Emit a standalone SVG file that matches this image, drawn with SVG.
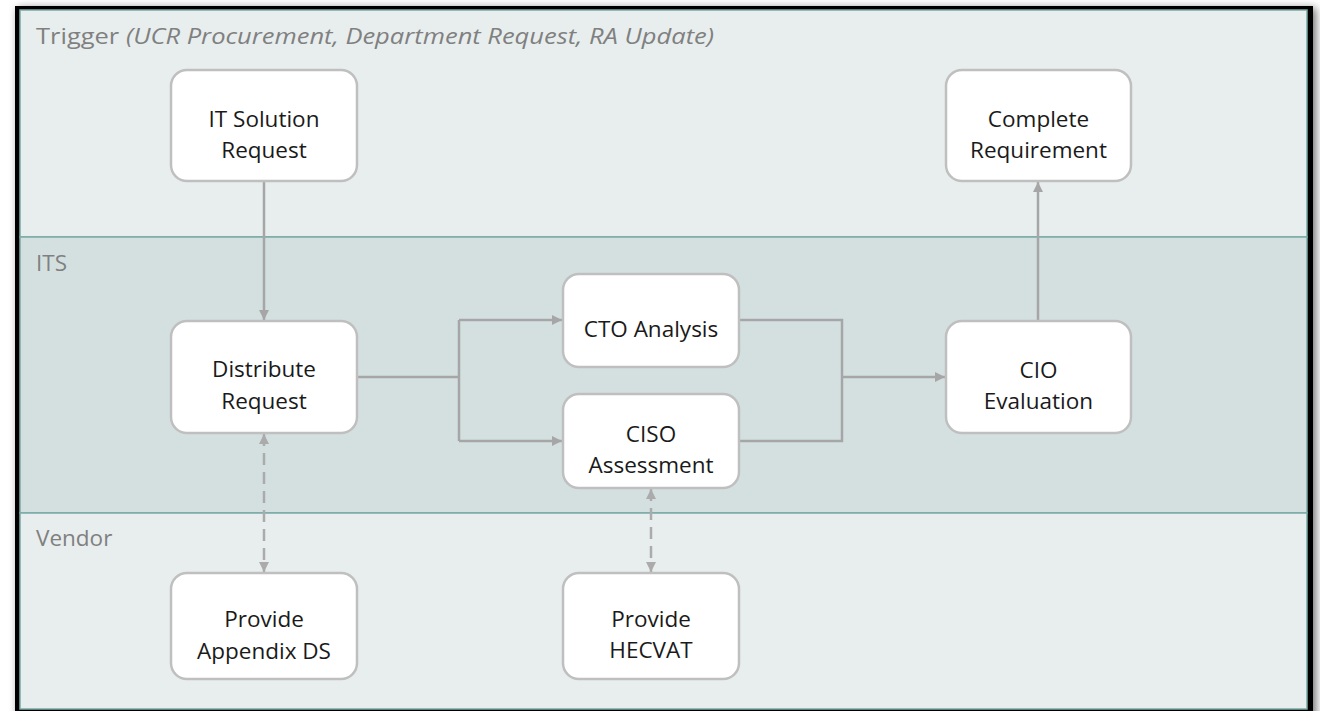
<svg xmlns="http://www.w3.org/2000/svg" width="1320" height="711" viewBox="0 0 1320 711">
<defs>
<filter id="shadow" x="-5%" y="-5%" width="110%" height="110%">
<feDropShadow dx="3" dy="2" stdDeviation="4" flood-color="#000" flood-opacity="0.55"/>
</filter>
<marker id="arr" viewBox="0 0 10 10" refX="10" refY="5" markerWidth="10" markerHeight="10" markerUnits="userSpaceOnUse" orient="auto">
<path d="M0,0 L10,5 L0,10 Z" fill="#A6A6A6"/>
</marker>
<marker id="arrD" viewBox="0 0 10 10" refX="10" refY="5" markerWidth="10" markerHeight="10" markerUnits="userSpaceOnUse" orient="auto-start-reverse">
<path d="M0,0 L10,5 L0,10 Z" fill="#ABABAB"/>
</marker>
<style>
.lane{stroke:#7AAAA7;stroke-width:1.5}
.lbl{font-family:"Open Sans","Liberation Sans",sans-serif;font-size:22.5px;fill:#808080}
.box{fill:#FFFFFF;stroke:#BFBFBF;stroke-width:2.5}
.t{font-family:"Open Sans","Liberation Sans",sans-serif;font-size:22.5px;fill:#1A1A1A;text-anchor:middle}
.c{fill:none;stroke:#A6A6A6;stroke-width:2.5}
.d{fill:none;stroke:#ABABAB;stroke-width:2.5;stroke-dasharray:12 7}
</style>
</defs>
<rect width="1320" height="711" fill="#FFFFFF"/>
<rect x="15" y="6" width="1298" height="720" fill="#000000" filter="url(#shadow)"/>
<g id="lanes">
<rect id="lane-trigger" class="lane" x="20" y="10" width="1287" height="227" fill="#E8EEEE"/>
<rect id="lane-its" class="lane" x="20" y="237" width="1287" height="276" fill="#D4E0E0"/>
<rect id="lane-vendor" class="lane" x="20" y="513" width="1287" height="196" fill="#E8EEEE"/>
<text class="lbl" x="36" y="44" textLength="678" lengthAdjust="spacingAndGlyphs">Trigger <tspan font-style="italic">(UCR Procurement, Department Request, RA Update)</tspan></text>
<text class="lbl" x="36" y="271">ITS</text>
<text class="lbl" x="36" y="546">Vendor</text>
</g>
<g id="connectors">
<path class="c" d="M264,182 L264,320" marker-end="url(#arr)"/>
<path class="c" d="M357,377 L459,377"/>
<path class="c" d="M459,320 L459,441"/>
<path class="c" d="M459,320 L562,320" marker-end="url(#arr)"/>
<path class="c" d="M459,441 L562,441" marker-end="url(#arr)"/>
<path class="c" d="M739,320 L842,320 L842,441 L739,441"/>
<path class="c" d="M842,377 L945,377" marker-end="url(#arr)"/>
<path class="c" d="M1038,320 L1038,182" marker-end="url(#arr)"/>
<path class="d" d="M264,434 L264,572" marker-start="url(#arrD)" marker-end="url(#arrD)"/>
<path class="d" d="M651,489 L651,572" marker-start="url(#arrD)" marker-end="url(#arrD)"/>
</g>
<g id="node-it-solution-request">
<rect class="box" x="171" y="70" width="186" height="111" rx="16"/>
<text class="t" x="264" y="127">IT Solution</text>
<text class="t" x="264" y="158">Request</text>
</g>
<g id="node-complete-requirement">
<rect class="box" x="946" y="70" width="185" height="111" rx="16"/>
<text class="t" x="1038.5" y="127">Complete</text>
<text class="t" x="1038.5" y="158">Requirement</text>
</g>
<g id="node-distribute-request">
<rect class="box" x="171" y="321" width="186" height="112" rx="16"/>
<text class="t" x="264" y="377">Distribute</text>
<text class="t" x="264" y="409">Request</text>
</g>
<g id="node-cto-analysis">
<rect class="box" x="563" y="274" width="176" height="93" rx="16"/>
<text class="t" x="651" y="337">CTO Analysis</text>
</g>
<g id="node-ciso-assessment">
<rect class="box" x="563" y="394" width="176" height="94" rx="16"/>
<text class="t" x="651" y="442">CISO</text>
<text class="t" x="651" y="473">Assessment</text>
</g>
<g id="node-cio-evaluation">
<rect class="box" x="946" y="321" width="185" height="112" rx="16"/>
<text class="t" x="1038.5" y="378">CIO</text>
<text class="t" x="1038.5" y="409">Evaluation</text>
</g>
<g id="node-provide-appendix-ds">
<rect class="box" x="171" y="573" width="186" height="106" rx="16"/>
<text class="t" x="264" y="627">Provide</text>
<text class="t" x="264" y="659">Appendix DS</text>
</g>
<g id="node-provide-hecvat">
<rect class="box" x="563" y="573" width="176" height="106" rx="16"/>
<text class="t" x="651" y="627">Provide</text>
<text class="t" x="651" y="658">HECVAT</text>
</g>
</svg>
